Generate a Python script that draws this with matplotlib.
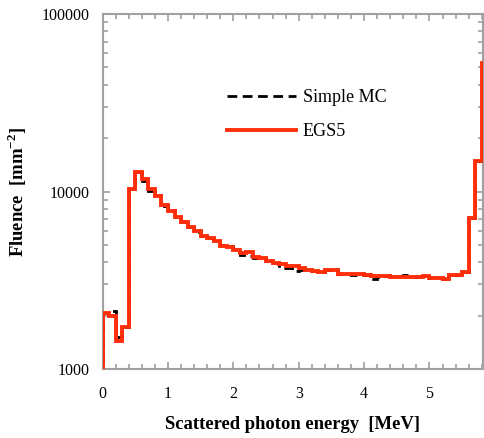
import numpy as np
import matplotlib.pyplot as plt
from matplotlib.lines import Line2D
from matplotlib.ticker import FixedLocator, MultipleLocator, LogLocator, NullFormatter

plt.rcParams['font.family'] = ['Liberation Serif', 'DejaVu Serif']
plt.rcParams['mathtext.fontset'] = 'custom'
plt.rcParams['mathtext.rm'] = 'Liberation Serif'
plt.rcParams['mathtext.bf'] = 'Liberation Serif:bold'

# 0.1 MeV bins, 0 .. 5.9 MeV
edges = np.round(np.arange(60) * 0.1, 1)

# fluence per bin [mm^-2]
egs5 = [2060, 2000, 1440, 1730, 10300, 12900, 11700, 10300, 9450, 8400,
        7770, 7210, 6760, 6350, 5990, 5590, 5490, 5260, 4950, 4890,
        4680, 4480, 4540, 4290, 4200, 4060, 3970, 3890, 3820, 3820,
        3690, 3620, 3565, 3535, 3600, 3600, 3415, 3450, 3420, 3450,
        3385, 3330, 3350, 3350, 3310, 3300, 3300, 3300, 3300, 3330,
        3250, 3250, 3230, 3370, 3370, 3500, 7060, 14900, 53000]

simple_mc = [2060, 2130, 1510, 1730, 10300, 12900, 11500, 10100, 9500, 8300,
             7850, 7210, 6760, 6350, 5950, 5590, 5490, 5260, 4980, 4950,
             4750, 4400, 4330, 4230, 4200, 4060, 3970, 3700, 3690, 3560,
             3600, 3620, 3565, 3535, 3600, 3600, 3430, 3450, 3370, 3420,
             3400, 3220, 3300, 3350, 3350, 3350, 3370, 3300, 3300, 3330,
             3250, 3250, 3230, 3400, 3370, 3500, 7060, 14900, 53000]

red = '#ff2d0a'
grey = '#a0a0a0'

fig = plt.figure(figsize=(4.84, 4.38), dpi=100)
ax = fig.add_axes([0.212, 0.1575, 0.786, 0.8105])

ax.stairs(simple_mc, edges, baseline=1, color='black', lw=2.0,
          ls=(0, (3.5, 2)), zorder=2)
ax.stairs(egs5, edges, baseline=1, color=red, lw=2.8, zorder=3)

ax.set_yscale('log')
ax.set_ylim(1000, 100000)
ax.set_xlim(0, 5.82)

ax.yaxis.set_major_locator(FixedLocator([1000, 10000, 100000]))
ax.set_yticklabels(['1000', '10000', '100000'])
ax.yaxis.set_minor_locator(LogLocator(base=10, subs=np.arange(2, 10)))
ax.yaxis.set_minor_formatter(NullFormatter())
ax.xaxis.set_major_locator(MultipleLocator(1))
ax.xaxis.set_minor_locator(MultipleLocator(0.2))

for s in ax.spines.values():
    s.set_color(grey)
    s.set_linewidth(1.5)

ax.tick_params(which='both', direction='in', color=grey, width=1.2,
               top=True, right=True, labelsize=11.5)
ax.tick_params(which='major', length=5)
ax.tick_params(which='minor', length=3.5)
ax.tick_params(axis='x', pad=12)
ax.tick_params(axis='y', pad=9.5)

ax.set_xlabel('Scattered photon energy  [MeV]', fontsize=13.4,
              fontweight='bold', labelpad=10)
ax.set_ylabel('Fluence  [mm$^{\\mathbf{-2}}$]', fontsize=13.4,
              fontweight='bold', labelpad=9)

handles = [Line2D([], [], color='black', lw=2.0, ls=(0, (3.5, 2))),
           Line2D([], [], color=red, lw=2.8)]
ax.legend(handles, ['Simple MC', 'EGS5'], frameon=False, fontsize=13,
          loc='upper left', bbox_to_anchor=(0.284, 0.834),
          handlelength=3.8, handletextpad=0.4, labelspacing=0.95)

fig.savefig('out.png', dpi=100)
